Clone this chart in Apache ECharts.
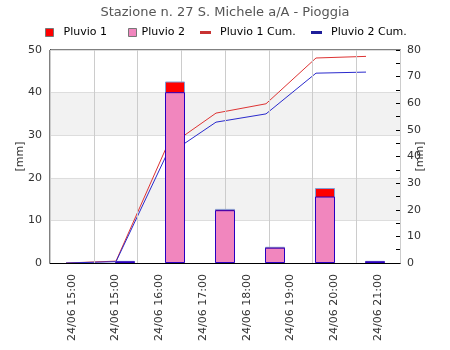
<!DOCTYPE html>
<html><head><meta charset="utf-8">
<script src="https://cdn.jsdelivr.net/npm/echarts@6/dist/echarts.min.js"></script>
<style>html,body{margin:0;padding:0;background:#fff}#c{width:450px;height:350px}</style>
</head><body><div id="c"></div>
<script>
const titleText = 'Stazione n. 27 S. Michele a/A - Pioggia';
const xLabels = ['24/06 15:00','24/06 15:00','24/06 16:00','24/06 17:00','24/06 18:00','24/06 19:00','24/06 20:00','24/06 21:00'];
const barCategories = ['15:00','16:00','17:00','18:00','19:00','20:00','21:00'];
const pluvio1 = [null, 0.5, 42.6, 12.7, 3.8, 17.6, 0.5];
const pluvio2 = [null, 0.4, 40.1, 12.4, 3.6, 15.6, 0.4];
const cumHours = [15, 16, 17, 18, 19, 20, 21];
const pluvio1Cum = [0, 0.7, 43.1, 56.3, 59.8, 77.0, 77.6];
const pluvio2Cum = [0, 0.5, 40.2, 52.9, 56.0, 71.3, 71.7];
const leftAxis = {min: 0, max: 50, interval: 10};
const rightAxis = {min: 0, max: 80, interval: 10};
const hourRange = {min: 14.68, max: 21.68};
const FONT = 'DejaVu Sans';

const chart = echarts.init(document.getElementById('c'), null, {renderer: 'canvas'});
const legendText = {fontSize: 11, color: '#000', fontFamily: FONT};
function mkLegend(name, left, opts) {
  return Object.assign({
    data: [name], left: left, top: 27, padding: 0, orient: 'horizontal',
    selectedMode: false,
    textStyle: Object.assign({}, legendText, {padding: [0, 0, 0, opts.pad]})
  }, opts.extra);
}
chart.setOption({
  animation: false,
  title: {text: titleText, left: 'center', top: 6, padding: 0,
    textStyle: {fontSize: 13, fontWeight: 'normal', color: '#555', fontFamily: FONT}},
  legend: [
    mkLegend('Pluvio 1', 45, {pad: 5, extra: {itemWidth: 8, itemHeight: 8, icon: 'rect', itemStyle: {borderColor: '#777', borderWidth: 1}}}),
    mkLegend('Pluvio 2', 128, {pad: 0, extra: {itemWidth: 8, itemHeight: 8, icon: 'rect', itemStyle: {borderColor: '#777', borderWidth: 1}}}),
    mkLegend('Pluvio 1 Cum.', 200, {pad: 4, extra: {itemWidth: 11, itemHeight: 3, icon: 'rect', itemStyle: {color: '#c83232', borderWidth: 0}}}),
    mkLegend('Pluvio 2 Cum.', 311, {pad: 4, extra: {itemWidth: 11, itemHeight: 3, icon: 'rect', itemStyle: {color: '#1e1e9a', borderWidth: 0}}})
  ],
  grid: {left: 50, right: 50, top: 50, bottom: 87, show: true, borderColor: '#000', borderWidth: 1, backgroundColor: 'transparent'},
  xAxis: [
    {type: 'category', data: xLabels, boundaryGap: true,
      axisLine: {lineStyle: {color: '#000', width: 1}}, axisTick: {show: false},
      axisLabel: {rotate: 90, fontSize: 11, color: '#333', fontFamily: FONT, margin: 11, interval: 0, padding: [6, 0, 0, 0]},
      splitLine: {show: true, interval: 0, lineStyle: {color: '#cccccc', width: 1}}, z: 3},
    {type: 'category', data: barCategories, boundaryGap: true, show: false},
    {type: 'value', min: hourRange.min, max: hourRange.max, show: false, splitLine: {show: false}}
  ],
  yAxis: [
    {type: 'value', min: leftAxis.min, max: leftAxis.max, interval: leftAxis.interval,
      name: '[mm]', nameLocation: 'middle', nameRotate: 90, nameGap: 24, nameMoveOverlap: false,
      nameTextStyle: {fontSize: 11, color: '#333', fontFamily: FONT},
      axisLine: {show: true, lineStyle: {color: '#000'}}, axisTick: {show: false},
      axisLabel: {fontSize: 11, color: '#333', fontFamily: FONT, margin: 8},
      splitLine: {show: true, lineStyle: {color: '#dddddd'}},
      splitArea: {show: true, areaStyle: {color: ['#ffffff', '#f2f2f2']}}},
    {type: 'value', min: rightAxis.min, max: rightAxis.max, interval: rightAxis.interval, position: 'right',
      name: '[mm]', nameLocation: 'middle', nameRotate: 90, nameGap: 15, nameMoveOverlap: false,
      nameTextStyle: {fontSize: 11, color: '#333', fontFamily: FONT},
      axisLine: {show: true, lineStyle: {color: '#000'}},
      axisTick: {show: true, inside: true, length: 4, lineStyle: {color: '#000'}},
      minorTick: {show: true, splitNumber: 2, length: 4, lineStyle: {color: '#000'}},
      axisLabel: {fontSize: 11, color: '#333', fontFamily: FONT, margin: 7},
      splitLine: {show: false}}
  ],
  series: [
    {name: 'Pluvio 1 Cum.', type: 'line', xAxisIndex: 2, yAxisIndex: 1, z: 1,
      data: cumHours.map((h, i) => [h, pluvio1Cum[i]]), symbol: 'none',
      lineStyle: {color: '#dd3333', width: 1}, itemStyle: {color: '#c83232'}},
    {name: 'Pluvio 2 Cum.', type: 'line', xAxisIndex: 2, yAxisIndex: 1, z: 1,
      data: cumHours.map((h, i) => [h, pluvio2Cum[i]]), symbol: 'none',
      lineStyle: {color: '#2a2acc', width: 1}, itemStyle: {color: '#1e1e9a'}},
    {name: 'Pluvio 1', type: 'bar', xAxisIndex: 1, yAxisIndex: 0, z: 3, barWidth: 20, barGap: '-100%',
      data: pluvio1, itemStyle: {color: '#ff0000', borderColor: '#7f9fd8', borderWidth: 1}},
    {name: 'Pluvio 2', type: 'bar', xAxisIndex: 1, yAxisIndex: 0, z: 4, barWidth: 20, barGap: '-100%',
      data: pluvio2, itemStyle: {color: '#f186be', borderColor: '#2a00c0', borderWidth: 1}}
  ]
});
</script></body></html>
